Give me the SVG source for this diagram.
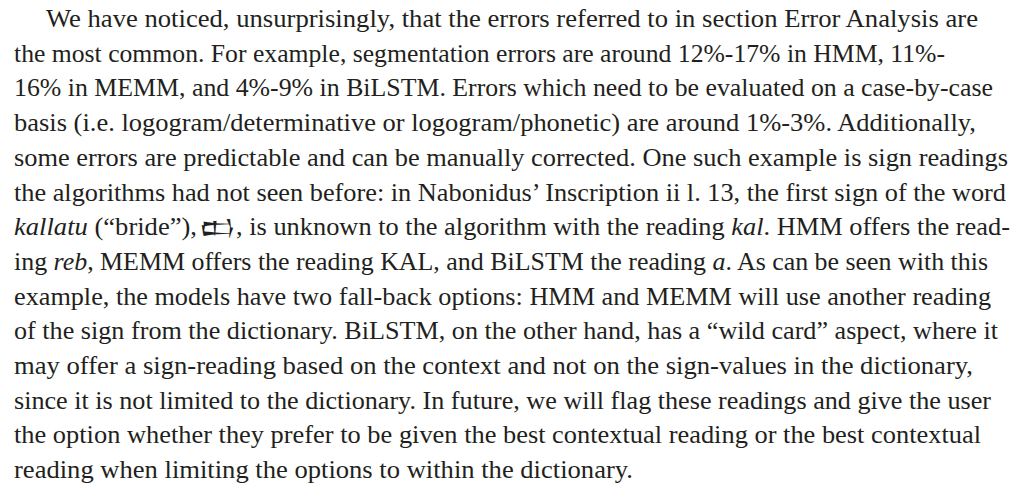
<svg xmlns="http://www.w3.org/2000/svg" width="1033" height="485" viewBox="0 0 1033 485">
<style>
text{font-family:"Liberation Serif","Times New Roman",serif;font-size:24.5px;fill:#231f20}
.i{font-style:italic}
.cu{font-family:"Noto Sans Cuneiform","Segoe UI Historic","Liberation Serif",serif;font-size:21px}
</style>
<rect width="1033" height="485" fill="#ffffff"/>
<g id="paragraph">
<text x="46" y="27" textLength="932" lengthAdjust="spacingAndGlyphs">We have noticed, unsurprisingly, that the errors referred to in section Error Analysis are</text>
<text x="14" y="61.7" textLength="931" lengthAdjust="spacingAndGlyphs">the most common. For example, segmentation errors are around 12%-17% in HMM, 11%-</text>
<text x="14" y="96.4" textLength="979" lengthAdjust="spacingAndGlyphs">16% in MEMM, and 4%-9% in BiLSTM. Errors which need to be evaluated on a case-by-case</text>
<text x="14" y="131.1" textLength="962" lengthAdjust="spacingAndGlyphs">basis (i.e. logogram/determinative or logogram/phonetic) are around 1%-3%. Additionally,</text>
<text x="14" y="165.8" textLength="994" lengthAdjust="spacingAndGlyphs">some errors are predictable and can be manually corrected. One such example is sign readings</text>
<text x="14" y="200.5" textLength="992" lengthAdjust="spacingAndGlyphs">the algorithms had not seen before: in Nabonidus’ Inscription ii l. 13, the first sign of the word</text>
<text x="14" y="235.2" textLength="183" lengthAdjust="spacingAndGlyphs"><tspan class="i">kallatu</tspan> (“bride”),</text>
<text class="cu" x="199" y="235.2" textLength="37" lengthAdjust="spacingAndGlyphs">𒆗</text>
<text x="236" y="235.2" textLength="774" lengthAdjust="spacingAndGlyphs">, is unknown to the algorithm with the reading <tspan class="i">kal</tspan>. HMM offers the read-</text>
<text x="14" y="269.9" textLength="974" lengthAdjust="spacingAndGlyphs">ing <tspan class="i">reb</tspan>, MEMM offers the reading KAL, and BiLSTM the reading <tspan class="i">a</tspan>. As can be seen with this</text>
<text x="14" y="304.6" textLength="977" lengthAdjust="spacingAndGlyphs">example, the models have two fall-back options: HMM and MEMM will use another reading</text>
<text x="14" y="339.3" textLength="984" lengthAdjust="spacingAndGlyphs">of the sign from the dictionary. BiLSTM, on the other hand, has a “wild card” aspect, where it</text>
<text x="14" y="374" textLength="959" lengthAdjust="spacingAndGlyphs">may offer a sign-reading based on the context and not on the sign-values in the dictionary,</text>
<text x="14" y="408.7" textLength="977" lengthAdjust="spacingAndGlyphs">since it is not limited to the dictionary. In future, we will flag these readings and give the user</text>
<text x="14" y="443.4" textLength="967" lengthAdjust="spacingAndGlyphs">the option whether they prefer to be given the best contextual reading or the best contextual</text>
<text x="14" y="478.1" textLength="619" lengthAdjust="spacingAndGlyphs">reading when limiting the options to within the dictionary.</text>
</g>
</svg>
